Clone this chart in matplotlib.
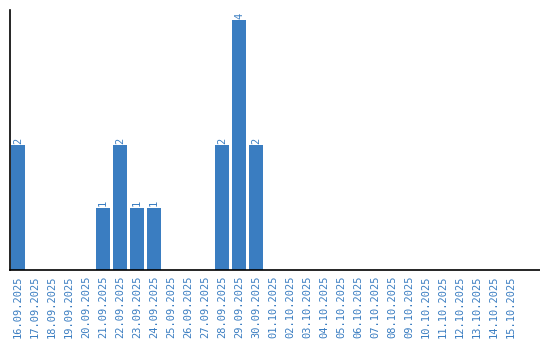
import matplotlib
matplotlib.use("Agg")
import matplotlib.pyplot as plt
import numpy as np

dates = ["16.09.2025", "17.09.2025", "18.09.2025", "19.09.2025", "20.09.2025",
         "21.09.2025", "22.09.2025", "23.09.2025", "24.09.2025", "25.09.2025",
         "26.09.2025", "27.09.2025", "28.09.2025", "29.09.2025", "30.09.2025",
         "01.10.2025", "02.10.2025", "03.10.2025", "04.10.2025", "05.10.2025",
         "06.10.2025", "07.10.2025", "08.10.2025", "09.10.2025", "10.10.2025",
         "11.10.2025", "12.10.2025", "13.10.2025", "14.10.2025", "15.10.2025"]
counts = [2, 0, 0, 0, 0, 1, 2, 1, 1, 0, 0, 0, 2, 4, 2,
          0, 0, 0, 0, 0, 0, 0, 0, 0, 0, 0, 0, 0, 0, 0]

blue = "#3a7dc1"
plt.rcParams["font.family"] = "DejaVu Sans Mono"
fig = plt.figure(figsize=(5.4, 3.4), dpi=100)
ax = fig.add_axes([10/540, 70/340, 530/540, 260/340])
x = np.arange(len(dates))
ax.bar(x, counts, width=0.82, color=blue)
for xi, c in zip(x, counts):
    if c > 0:
        ax.text(xi, c + 0.02, str(c), rotation=90, ha="center", va="bottom",
                fontsize=7.5, color=blue)
ax.set_xlim(-0.47, 30.7)
ax.set_ylim(0, 4.16)
ax.set_xticks(x)
ax.set_xticklabels(dates, rotation=90, fontsize=7.5, color=blue)
ax.tick_params(axis="x", length=0, pad=4)
ax.set_yticks([])
ax.spines["top"].set_visible(False)
ax.spines["right"].set_visible(False)
for s in ("left", "bottom"):
    ax.spines[s].set_linewidth(1.2)
    ax.spines[s].set_color("black")
fig.savefig("out.png", dpi=100)
